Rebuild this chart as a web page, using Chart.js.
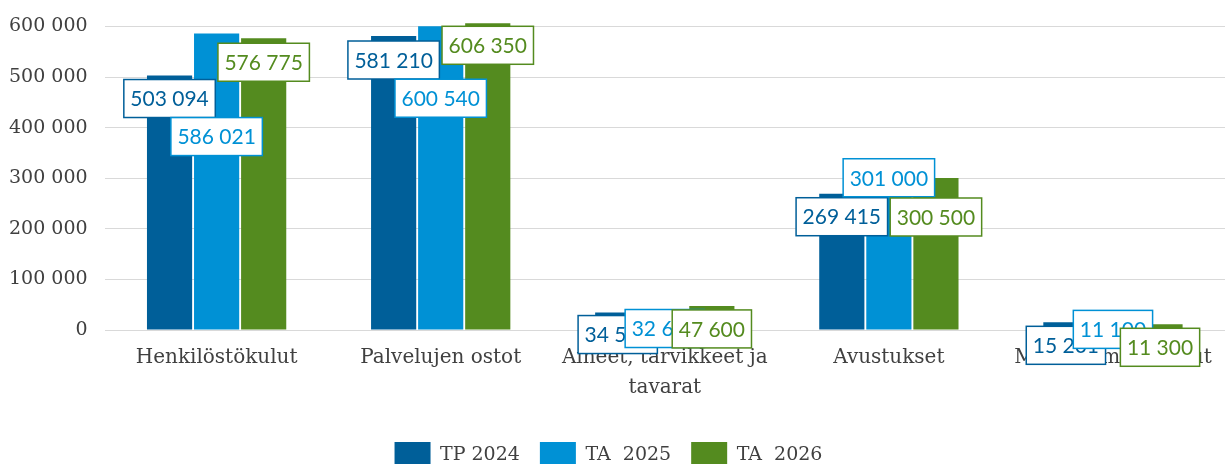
<!DOCTYPE html>
<html>
<head>
<meta charset="utf-8">
<script src="https://cdn.jsdelivr.net/npm/chart.js@4/dist/chart.umd.min.js"></script>
<style>
  html, body { margin: 0; padding: 0; background: #fff; overflow: hidden; }
  #wrap { width: 1226px; height: 478px; }
</style>
</head>
<body>
<div id="wrap"><canvas id="kulut"></canvas></div>
<script>
// kategoriat ja sarjat
var categories = ['Henkilöstökulut', 'Palvelujen ostot', ['Aineet, tarvikkeet ja', 'tavarat'], 'Avustukset', 'Muut toimintakulut'];
var seriesNames = ['TP 2024', 'TA  2025', 'TA  2026'];
var tp2024 = [503094, 581210, 34500, 269415, 15201];
var ta2025 = [586021, 600540, 32600, 301000, 11100];
var ta2026 = [576775, 606350, 47600, 300500, 11300];
var yTicks = [0, 100000, 200000, 300000, 400000, 500000, 600000];

var colors = ['#005f99', '#0091d5', '#548b1f'];
// label box offset (px below bar top), per series
var labelShift = [[23, 24, 22, 23, 23], [103, 72, 15, 0, 5], [24, 22, 23, 39, 23]];

function fmt(v) { return String(Math.round(v)).replace(/\B(?=(\d{3})+(?!\d))/g, ' '); }

var serif = "'DejaVu Serif', serif";

// boxed value labels
var boxLabels = {
  id: 'boxLabels',
  afterDatasetsDraw: function(chart) {
    var ctx = chart.ctx;
    ctx.save();
    ctx.font = "21px Lato, sans-serif";
    ctx.textAlign = 'center';
    ctx.textBaseline = 'middle';
    chart.data.datasets.forEach(function(ds, i) {
      var meta = chart.getDatasetMeta(i);
      meta.data.forEach(function(bar, j) {
        var txt = fmt(ds.data[j]);
        var w = ctx.measureText(txt).width + 13;
        var h = 38;
        var cx = bar.x, cy = bar.y + labelShift[i][j];
        ctx.fillStyle = '#fff';
        ctx.fillRect(cx - w / 2, cy - h / 2, w, h);
        ctx.lineWidth = 1.5;
        ctx.strokeStyle = colors[i];
        ctx.strokeRect(cx - w / 2, cy - h / 2, w, h);
        ctx.fillStyle = colors[i];
        ctx.fillText(txt, cx, cy + 1);
      });
    });
    ctx.restore();
  }
};

var series = [tp2024, ta2025, ta2026];
new Chart(document.getElementById('kulut'), {
  type: 'bar',
  data: {
    labels: categories,
    datasets: series.map(function(d, i) {
      return { label: seriesNames[i], data: d, backgroundColor: colors[i], borderWidth: 0,
               barPercentage: 0.96, categoryPercentage: 0.63, clip: false };
    })
  },
  options: {
    responsive: true,
    maintainAspectRatio: false,
    animation: false,
    layout: { padding: { top: 26, left: -8, right: 1, bottom: 0 } },
    plugins: {
      tooltip: { enabled: false },
      legend: {
        position: 'bottom',
        labels: { boxWidth: 36, boxHeight: 26, padding: 20, color: '#404040', font: { family: serif, size: 19 } }
      }
    },
    scales: {
      x: {
        grid: { display: false, drawTicks: false },
        border: { display: false },
        ticks: { color: '#404040', padding: 13, maxRotation: 0, autoSkip: false,
                 font: { family: serif, size: 20, lineHeight: 1.5 } },
        afterFit: function(s) { s.height = 92; }
      },
      y: {
        min: 0, max: 600000,
        afterBuildTicks: function(s) { s.ticks = yTicks.map(function(v) { return { value: v }; }); },
        grid: { color: '#d9d9d9', lineWidth: 1, drawTicks: false },
        border: { display: false },
        ticks: { color: '#404040', padding: 17, font: { family: serif, size: 19, lineHeight: 1 },
                 callback: function(v) { return fmt(v); } }
      }
    }
  },
  plugins: [boxLabels]
});
</script>
</body>
</html>
